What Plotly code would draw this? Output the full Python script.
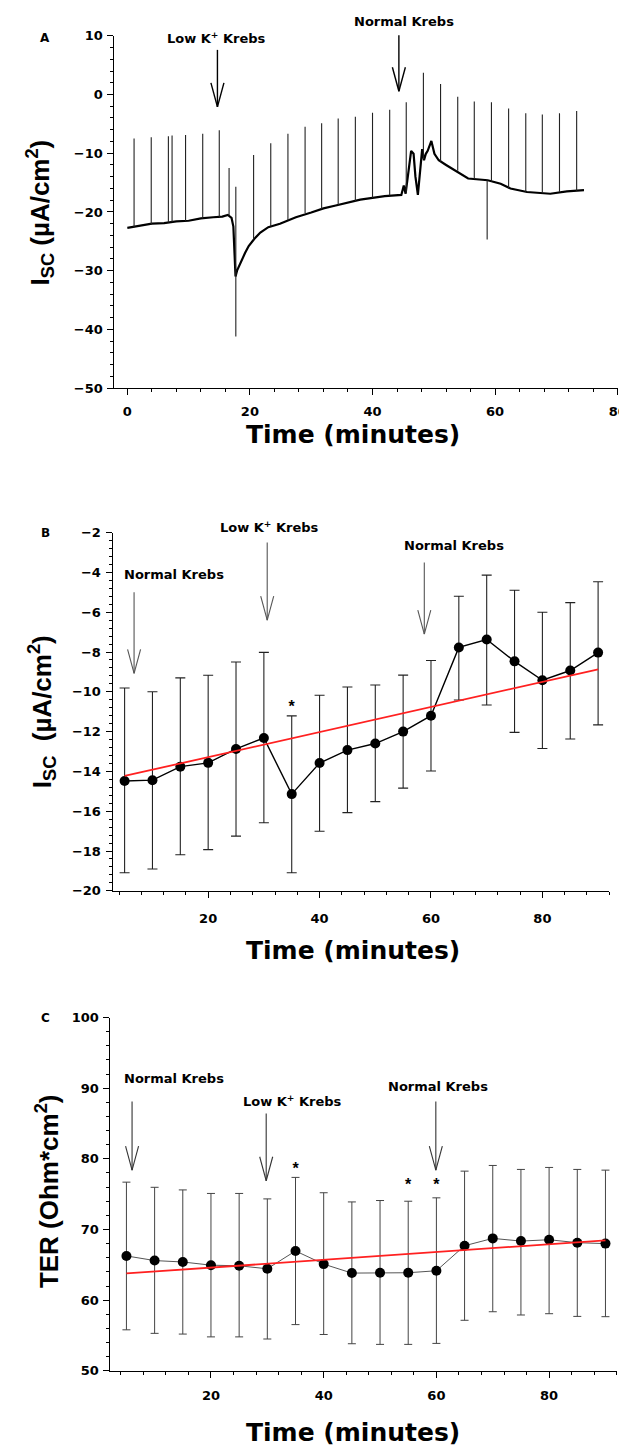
import plotly.graph_objects as go

W, H = 627, 1448
ARIAL = "Liberation Sans, Arial, sans-serif"
WIDE = "DejaVu Sans, Liberation Sans, sans-serif"

# ---------------- Panel A: continuous Isc recording ----------------
a_time = [0, 2, 4, 6, 8, 10, 12, 14, 15.5, 16.4, 17.0, 17.3, 17.5, 17.65, 17.9,
          18.5, 19.2, 19.8, 20.7, 21.7, 23, 24.9, 27.5, 30, 32, 34, 36, 38, 40,
          42, 44.7, 45.1, 45.4, 45.9, 46.3, 46.7, 47.0, 47.4, 47.8, 48.1, 48.4,
          48.7, 49.0, 49.6, 50.1, 50.8, 52, 53, 55.6, 58.8, 60.9, 62.5, 65.2,
          69, 71.7, 74.5]
a_isc = [-22.7, -22.4, -22.0, -21.9, -21.6, -21.5, -21.1, -20.9, -20.8, -20.5,
         -21.0, -22.5, -27.0, -31.0, -30.0, -28.5, -27.0, -25.8, -24.6, -23.5,
         -22.6, -22.0, -20.9, -20.1, -19.4, -18.9, -18.4, -17.9, -17.6, -17.3,
         -17.1, -15.5, -16.9, -12.3, -9.6, -10.1, -14.0, -17.1, -12.9, -9.3,
         -11.2, -10.1, -9.6, -7.9, -10.1, -11.2, -12.0, -12.6, -14.3, -14.6,
         -15.2, -16.0, -16.6, -16.9, -16.5, -16.3]
a_spike_time = [1.1, 3.9, 6.7, 7.3, 9.5, 12.3, 15.0, 16.6, 17.7, 20.6, 23.4, 26.2,
                29.0, 31.7, 34.4, 37.2, 40.0, 42.8, 45.5, 48.3, 51.1, 53.9, 56.6,
                58.7, 59.4, 62.2, 65.0, 67.7, 70.5, 73.3]
a_spike_base = [-22.6, -22.2, -21.8, -21.7, -21.5, -21.1, -20.9, -20.6, -41.2,
                -24.7, -22.5, -21.4, -20.2, -19.5, -18.8, -18.2, -17.6, -17.2,
                -16.8, -11.0, -11.4, -13.0, -14.4, -14.6, -14.8, -16.0, -16.6,
                -16.8, -16.6, -16.4]
a_spike_end = [-7.5, -7.3, -7.1, -7.0, -6.9, -6.7, -6.1, -12.5, -15.7, -10.3,
               -8.3, -6.7, -5.5, -4.9, -4.1, -3.8, -3.1, -2.6, -1.3, 3.7, 1.8,
               -0.4, -1.2, -24.7, -1.3, -2.4, -3.2, -3.4, -3.2, -2.8]

# ---------------- Panel B: Isc mean +/- error ----------------
b_time = [5, 10, 15, 20, 25, 30, 35, 40, 45, 50, 55, 60, 65, 70, 75, 80, 85, 90]
b_mean = [-14.48, -14.44, -13.76, -13.57, -12.87, -12.32, -15.14, -13.58, -12.93,
          -12.6, -12.0, -11.2, -7.77, -7.37, -8.47, -9.42, -8.93, -8.03]
b_upper = [-9.81, -10.0, -9.3, -9.17, -8.5, -8.02, -11.21, -10.17, -9.76, -9.66,
           -9.16, -8.43, -5.2, -4.14, -4.9, -6.0, -5.52, -4.47]
b_lower = [-19.09, -18.9, -18.19, -17.93, -17.25, -16.58, -19.09, -17.01, -16.07,
           -15.52, -14.84, -13.98, -10.41, -10.66, -12.04, -12.85, -12.37, -11.66]
b_fit_time = [5, 90]
b_fit = [-14.23, -8.87]
b_star_time = [35]
b_star_y = [-10.8]

# ---------------- Panel C: TER mean +/- error ----------------
c_time = [5, 10, 15, 20, 25, 30, 35, 40, 45, 50, 55, 60, 65, 70, 75, 80, 85, 90]
c_mean = [66.26, 65.6, 65.4, 64.95, 64.86, 64.44, 66.96, 65.1, 63.83, 63.88,
          63.88, 64.16, 67.7, 68.74, 68.36, 68.55, 68.13, 68.0]
c_upper = [76.7, 75.97, 75.6, 75.1, 75.1, 74.33, 77.37, 75.2, 73.9, 74.1, 74.0,
           74.48, 78.26, 79.06, 78.5, 78.78, 78.5, 78.4]
c_lower = [55.8, 55.3, 55.2, 54.8, 54.8, 54.5, 56.54, 55.14, 53.83, 53.74, 53.74,
           53.88, 57.15, 58.36, 57.9, 58.08, 57.7, 57.66]
c_fit_time = [5, 90]
c_fit = [63.78, 68.46]
c_star_time = [35, 55, 60]
c_star_y = [78.4, 76.1, 76.1]

# annotation arrows: (label, text_x, text_y, arrow_x, arrow_top, arrow_tip)
a_arrows = [("Low K<sup>+</sup> Krebs", 14.6, 9.6, 14.7, 7.6, -2.1),
            ("Normal Krebs", 45.1, 12.4, 44.3, 10.1, 0.56)]
b_arrows = [("Normal Krebs", 13.8, -4.1, 6.7, -5.0, -9.07),
            ("Low K<sup>+</sup> Krebs", 31.1, -1.7, 30.6, -2.5, -6.4),
            ("Normal Krebs", 64.1, -2.65, 58.8, -3.5, -7.1)]
c_arrows = [("Normal Krebs", 13.4, 91.4, 6.0, 88.1, 78.4),
            ("Low K<sup>+</sup> Krebs", 34.4, 88.2, 29.8, 86.4, 76.9),
            ("Normal Krebs", 60.2, 90.2, 59.9, 88.1, 78.4)]


def px(x):
    return x / W


def py(y):
    return 1 - y / H


# axis geometry (domains in paper fraction)
AX = {
    "x": ([px(108), px(618.6)], [-2.1, 80]),
    "y": ([py(377), py(21)], [-50, 10]),
    "x2": ([px(107), px(610)], [3, 92]),
    "y2": ([py(885), py(523)], [-20, -2]),
    "x3": ([px(103), px(617.6)], [2, 92]),
    "y3": ([py(1370), py(1013)], [50, 100]),
}


def to_paper(ax, v):
    dom, rng = AX[ax]
    return dom[0] + (v - rng[0]) / (rng[1] - rng[0]) * (dom[1] - dom[0])


fig = go.Figure()

# ---- Panel A traces
fig.add_trace(go.Scatter(x=a_time, y=a_isc, mode="lines",
                         line=dict(color="black", width=2.2),
                         xaxis="x", yaxis="y", showlegend=False))
sx, sy = [], []
for t, b, e in zip(a_spike_time, a_spike_base, a_spike_end):
    sx += [t, t, None]
    sy += [b, e, None]
fig.add_trace(go.Scatter(x=sx, y=sy, mode="lines",
                         line=dict(color="#222", width=1.1),
                         xaxis="x", yaxis="y", showlegend=False))

# ---- Panel B traces
fig.add_trace(go.Scatter(
    x=b_time, y=b_mean, mode="lines+markers",
    line=dict(color="black", width=1.4),
    marker=dict(color="black", size=10),
    error_y=dict(type="data", symmetric=False,
                 array=[u - m for u, m in zip(b_upper, b_mean)],
                 arrayminus=[m - l for m, l in zip(b_mean, b_lower)],
                 color="#222", thickness=1.1, width=5),
    xaxis="x2", yaxis="y2", showlegend=False))
fig.add_trace(go.Scatter(x=b_fit_time, y=b_fit, mode="lines",
                         line=dict(color="#ff2020", width=1.8),
                         xaxis="x2", yaxis="y2", showlegend=False))
fig.add_trace(go.Scatter(x=b_star_time, y=b_star_y, mode="text", text=["*"] * len(b_star_time),
                         textfont=dict(family=ARIAL, size=16, color="black", weight="bold"),
                         xaxis="x2", yaxis="y2", showlegend=False))

# ---- Panel C traces
fig.add_trace(go.Scatter(
    x=c_time, y=c_mean, mode="lines+markers",
    line=dict(color="#555", width=1),
    marker=dict(color="black", size=10),
    error_y=dict(type="data", symmetric=False,
                 array=[u - m for u, m in zip(c_upper, c_mean)],
                 arrayminus=[m - l for m, l in zip(c_mean, c_lower)],
                 color="#444", thickness=1, width=4),
    xaxis="x3", yaxis="y3", showlegend=False))
fig.add_trace(go.Scatter(x=c_fit_time, y=c_fit, mode="lines",
                         line=dict(color="#ff2020", width=1.8),
                         xaxis="x3", yaxis="y3", showlegend=False))
fig.add_trace(go.Scatter(x=c_star_time, y=c_star_y, mode="text", text=["*"] * len(c_star_time),
                         textfont=dict(family=ARIAL, size=16, color="black", weight="bold"),
                         xaxis="x3", yaxis="y3", showlegend=False))

tickfont = dict(family=WIDE, size=13, color="black", weight="bold")


def axis(name, dtick, minor_dtick, anchor, standoff=0):
    dom, rng = AX[name]
    return dict(domain=dom, range=rng, dtick=dtick, tick0=0,
                showline=True, linecolor="black", linewidth=1,
                ticks="outside", ticklen=6, tickwidth=1, tickcolor="black",
                minor=dict(ticks="outside", ticklen=3, tickwidth=1,
                           tickcolor="black", dtick=minor_dtick, tick0=0),
                showgrid=False, zeroline=False, tickfont=tickfont,
                ticklabelstandoff=standoff, ticklabeloverflow="allow",
                anchor=anchor, fixedrange=True)


fig.update_layout(
    width=W, height=H, margin=dict(l=0, r=0, t=0, b=0),
    paper_bgcolor="white", plot_bgcolor="white",
    xaxis=axis("x", 20, 4, "y", 5),
    yaxis=axis("y", 10, 2, "x", 2),
    xaxis2=axis("x2", 20, 4, "y2", 10),
    yaxis2=axis("y2", 2, 0.4, "x2", 3),
    xaxis3=axis("x3", 20, 4, "y3", 7),
    yaxis3=axis("y3", 10, 2, "x3", 1),
)

annotations = []
shapes = []


def add_arrows(arrows, xa, ya, color, width):
    for label, tx, ty, ax, atop, atip in arrows:
        annotations.append(dict(text=label, x=to_paper(xa, tx), y=to_paper(ya, ty),
                                xref="paper", yref="paper",
                                showarrow=False, xanchor="center", yanchor="middle",
                                font=dict(family=WIDE, size=13, color="black", weight="bold")))
        xp = to_paper(xa, ax)
        shapes.append(dict(type="line", xref="paper", yref="paper", x0=xp, x1=xp,
                           y0=to_paper(ya, atop), y1=to_paper(ya, atip),
                           line=dict(color=color, width=width)))
        for side in (-1, 1):
            shapes.append(dict(type="line", xref="paper", yref="paper",
                               xsizemode="pixel", ysizemode="pixel",
                               xanchor=xp, yanchor=to_paper(ya, atip),
                               x0=0, y0=0, x1=side * 6.5, y1=24,
                               line=dict(color=color, width=width)))


add_arrows(a_arrows, "x", "y", "black", 1.4)
add_arrows(b_arrows, "x2", "y2", "#555", 1.1)
add_arrows(c_arrows, "x3", "y3", "#333", 1.1)

# panel letters
for letter, (lx, ly) in zip(["A", "B", "C"], [(38, 23), (38, 523), (38, 1014)]):
    annotations.append(dict(text=letter, x=px(lx), y=py(ly), xref="paper", yref="paper",
                            showarrow=False, xanchor="center", yanchor="middle",
                            font=dict(family=WIDE, size=12, color="black", weight="bold")))
# x titles
xtitle_font = dict(family=WIDE, size=25, color="black", weight="bold")
for yy in (424, 945, 1432):
    annotations.append(dict(text="Time (minutes)", x=px(350), y=py(yy), xref="paper",
                            yref="paper", showarrow=False, xanchor="center",
                            yanchor="middle", font=xtitle_font))
# y titles
ytitle_font = dict(family=ARIAL, size=26, color="black", weight="bold")
ytitles = [("I<sub>SC</sub> (µA/cm<sup>2</sup>)", 32, 200),
           ("I<sub>SC</sub>  (µA/cm<sup>2</sup>)", 34, 704),
           ("TER (Ohm*cm<sup>2</sup>)", 40, 1188)]
for txt, xx, yy in ytitles:
    annotations.append(dict(text=txt, x=px(xx), y=py(yy), xref="paper", yref="paper",
                            showarrow=False, xanchor="center", yanchor="middle",
                            textangle=-90, font=ytitle_font))

fig.update_layout(annotations=annotations, shapes=shapes)

fig.write_html("out.html")
